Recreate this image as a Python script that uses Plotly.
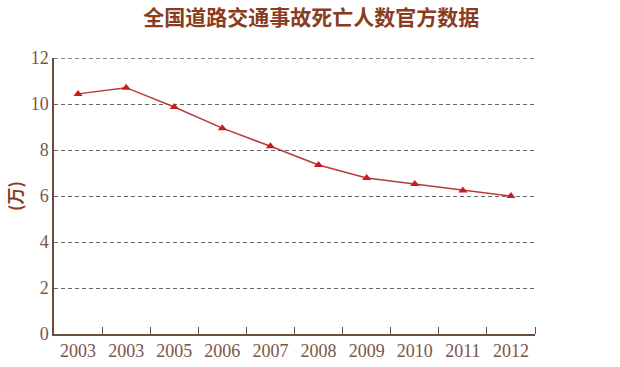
import plotly.graph_objects as go

years = ["2003", "2003", "2005", "2006", "2007", "2008", "2009", "2010", "2011", "2012"]
deaths = [10.44, 10.71, 9.87, 8.95, 8.16, 7.35, 6.78, 6.52, 6.24, 6.00]
y_ticks = [0, 2, 4, 6, 8, 10, 12]

xpos = list(range(len(years)))
axis_col = "#6e4c3c"
label_col = "#7a5646"

fig = go.Figure()
fig.add_trace(go.Scatter(
    x=xpos, y=deaths, mode="lines+markers",
    line=dict(color="#b83a3a", width=1.5),
    marker=dict(symbol="triangle-up", size=8, color="#cc1a1a"),
    showlegend=False,
))

fig.add_shape(type="line", xref="paper", x0=0, x1=1, yref="y", y0=11.99, y1=11.99,
              line=dict(color="#555555", width=1, dash="4px,3px"), layer="below")

fig.update_layout(
    width=620, height=367,
    margin=dict(l=54, r=85, t=58, b=33),
    paper_bgcolor="white", plot_bgcolor="white",
    title=dict(text="全国道路交通事故死亡人数官方数据", x=0.502, xanchor="center",
               y=0.952, yanchor="middle", automargin=False,
               font=dict(family="Noto Sans CJK SC", size=21, color="#8a3c1e", weight="bold")),
    xaxis=dict(
        range=[-0.5, 9.5], tickmode="array", tickvals=xpos, ticktext=years,
        ticks="", showgrid=False, zeroline=False, automargin=False,
        showline=True, linecolor=axis_col, linewidth=1.5,
        tickfont=dict(family="Liberation Serif", size=18, color=label_col),
        minor=dict(tickmode="array", tickvals=[i + 0.5 for i in xpos],
                   ticks="inside", ticklen=7, tickcolor=axis_col, tickwidth=1, showgrid=False),
    ),
    yaxis=dict(
        range=[0, 12], tickmode="array", tickvals=y_ticks,
        ticks="", showgrid=True, gridcolor="#666666", gridwidth=1, griddash="4px,3px",
        zeroline=False, showline=True, linecolor=axis_col, linewidth=1.5, automargin=False,
        tickfont=dict(family="Liberation Serif", size=18, color=label_col),
        title=dict(text="(万)", standoff=4,
                   font=dict(family="Noto Sans CJK SC", size=17, color="#8a3c1e", weight="bold")),
    ),
)

fig.write_html("out.html", config={"displayModeBar": False},
               post_script="document.body.style.margin='0px';")
